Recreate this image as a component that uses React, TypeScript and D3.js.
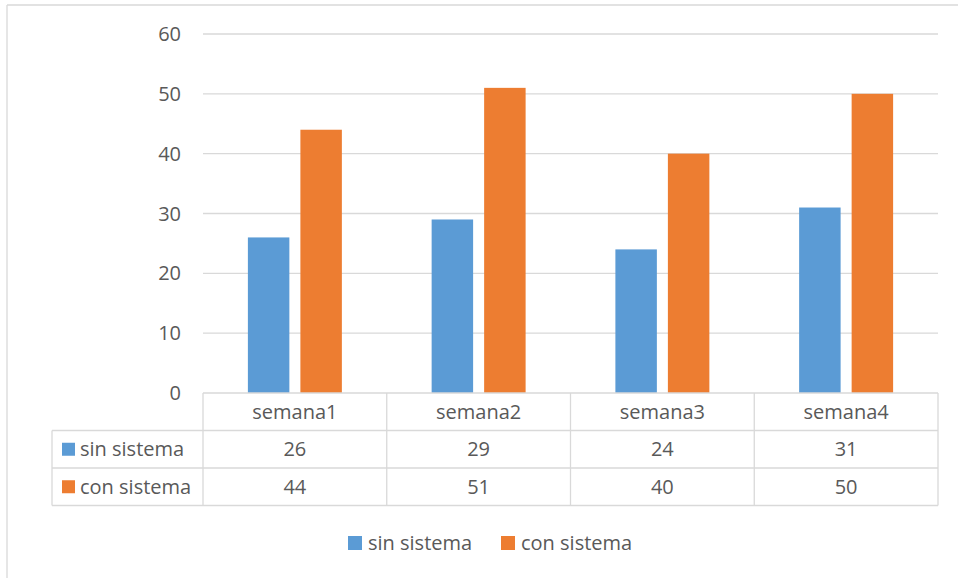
import React from "react";
import * as d3 from "d3";

const categories = ["semana1", "semana2", "semana3", "semana4"];
const seriesNames = ["sin sistema", "con sistema"];
const sinSistema = [26, 29, 24, 31];
const conSistema = [44, 51, 40, 50];
const yTicks = [0, 10, 20, 30, 40, 50, 60];
const colors = ["#5b9bd5", "#ed7d31"];

const W = 958;
const H = 578;
const FONT = "'Open Sans', 'Noto Sans', sans-serif";
const TEXT = "#595959";
const GRID = "#d9d9d9";
const FS = 20;

export default function App() {
  const left = 203;
  const right = 938;
  const top = 34;
  const bottom = 393;
  const rowH = 37.5;
  const tableLeft = 52;

  const x = d3.scaleBand<string>().domain(categories).range([left, right]).paddingInner(0).paddingOuter(0);
  const y = d3.scaleLinear().domain([0, 60]).range([bottom, top]);
  const inner = d3.scaleBand<string>().domain(seriesNames).range([0, x.bandwidth()]).paddingInner(0.21).paddingOuter(0.855);

  const series = [sinSistema, conSistema];

  return (
    <svg width={W} height={H} style={{ position: "absolute", left: 0, top: 0, fontFamily: FONT }}>
      <rect x={0} y={0} width={W} height={H} fill="#fff" />
      {/* outer frame */}
      <line x1={7} y1={5} x2={W} y2={5} stroke={GRID} strokeWidth={1.3} />
      <line x1={7} y1={5} x2={7} y2={H} stroke={GRID} strokeWidth={1.3} />

      {/* gridlines */}
      {yTicks.filter(t => t > 0).map(t => (
        <line key={t} x1={left} x2={right} y1={y(t)} y2={y(t)} stroke={GRID} strokeWidth={1.3} />
      ))}
      {yTicks.map(t => (
        <text key={"l" + t} x={181} y={y(t)} dy="0.35em" textAnchor="end" fontSize={FS} fill={TEXT}>{t}</text>
      ))}

      {/* bars */}
      {series.map((vals, si) =>
        categories.map((c, ci) => (
          <rect key={si + "-" + ci}
            x={(x(c) as number) + (inner(seriesNames[si]) as number)}
            y={y(vals[ci])}
            width={inner.bandwidth()}
            height={y(0) - y(vals[ci])}
            fill={colors[si]} />
        ))
      )}

      {/* data table */}
      <g stroke={GRID} strokeWidth={1.3} fill="none">
        <line x1={left} x2={right} y1={bottom} y2={bottom} />
        <line x1={tableLeft} x2={right} y1={bottom + rowH} y2={bottom + rowH} />
        <line x1={tableLeft} x2={right} y1={bottom + 2 * rowH} y2={bottom + 2 * rowH} />
        <line x1={tableLeft} x2={right} y1={bottom + 3 * rowH} y2={bottom + 3 * rowH} />
        <line x1={tableLeft} x2={tableLeft} y1={bottom + rowH} y2={bottom + 3 * rowH} />
        {categories.map(c => (
          <line key={c} x1={x(c) as number} x2={x(c) as number} y1={bottom} y2={bottom + 3 * rowH} />
        ))}
        <line x1={right} x2={right} y1={bottom} y2={bottom + 3 * rowH} />
      </g>
      {categories.map(c => (
        <text key={"c" + c} x={(x(c) as number) + x.bandwidth() / 2} y={bottom + rowH / 2} dy="0.35em"
          textAnchor="middle" fontSize={FS} fill={TEXT}>{c}</text>
      ))}
      {series.map((vals, si) => (
        <g key={"row" + si}>
          <rect x={62} y={bottom + rowH * (si + 1) + rowH / 2 - 6.5} width={13} height={13} fill={colors[si]} />
          <text x={80} y={bottom + rowH * (si + 1.5)} dy="0.35em" fontSize={FS} fill={TEXT}>{seriesNames[si]}</text>
          {vals.map((v, ci) => (
            <text key={ci} x={(x(categories[ci]) as number) + x.bandwidth() / 2} y={bottom + rowH * (si + 1.5)} dy="0.35em"
              textAnchor="middle" fontSize={FS} fill={TEXT}>{v}</text>
          ))}
        </g>
      ))}

      {/* legend */}
      {[348, 501].map((lx, si) => (
        <g key={"lg" + si}>
          <rect x={lx} y={536} width={14} height={14} fill={colors[si]} />
          <text x={lx + 20} y={543} dy="0.35em" fontSize={FS} fill={TEXT}>{seriesNames[si]}</text>
        </g>
      ))}
    </svg>
  );
}
